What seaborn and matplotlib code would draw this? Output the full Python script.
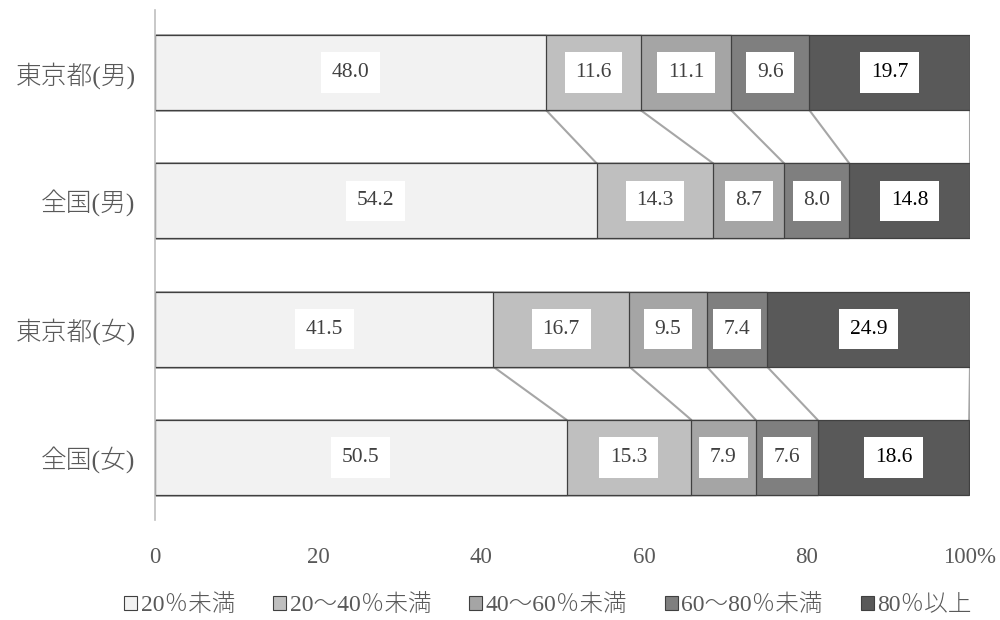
import matplotlib
matplotlib.use("Agg")
import matplotlib.pyplot as plt
from matplotlib.patches import Patch
import seaborn as sns
import numpy as np
import pandas as pd

categories = ["東京都(男)", "全国(男)", "東京都(女)", "全国(女)"]
series_names = ["20％未満", "20～40％未満", "40～60％未満", "60～80％未満", "80％以上"]
seg_lt20 = [48.0, 54.2, 41.5, 50.5]
seg_20_40 = [11.6, 14.3, 16.7, 15.3]
seg_40_60 = [11.1, 8.7, 9.5, 7.9]
seg_60_80 = [9.6, 8.0, 7.4, 7.6]
seg_ge80 = [19.7, 14.8, 24.9, 18.6]
xticks = [0, 20, 40, 60, 80, 100]
xtick_labels = ["0", "20", "40", "60", "80", "100%"]
colors = ["#f2f2f2", "#bfbfbf", "#a5a5a5", "#7f7f7f", "#595959"]
pairs = [(0, 1), (2, 3)]

sns.set_theme(style="white")
FONT = ["Liberation Serif", "Noto Sans CJK JP", "DejaVu Sans"]
plt.rcParams["font.family"] = FONT

series = [seg_lt20, seg_20_40, seg_40_60, seg_60_80, seg_ge80]
vals = np.array(series)  # shape (5, 4)
cum = np.cumsum(vals, axis=0)
starts = cum - vals

fig = plt.figure(figsize=(10, 6.2), dpi=100)
ax = fig.add_axes([0.155, 0.161, 0.815, 0.823])

bar_h = 0.585
for k in range(len(series) - 1, -1, -1):
    df = pd.DataFrame({"cat": categories, "end": cum[k]})
    sns.barplot(data=df, x="end", y="cat", orient="h", color=colors[k],
                saturation=1, width=bar_h, edgecolor="#404040", linewidth=0.9,
                ax=ax, zorder=2)

# connector (series) lines
for (a, b) in pairs:
    for k in range(len(series)):
        ax.plot([cum[k][a], cum[k][b]], [a + bar_h / 2, b - bar_h / 2],
                color="#a6a6a6", lw=1.5, zorder=1)

# data labels
for k in range(len(series)):
    for i in range(len(categories)):
        xc = starts[k][i] + vals[k][i] / 2
        ax.text(xc, i, f"{vals[k][i]:.1f}", ha="center", va="center",
                fontsize=15.5, color="#000000" if k == 4 else "#404040",
                family=FONT, zorder=5,
                bbox=dict(boxstyle="square,pad=0.5", fc="white", ec="none"))

ax.set_xlim(0, 100)
ax.set_ylim(3.49, -0.49)
ax.set_xticks(xticks)
ax.set_xticklabels(xtick_labels, fontsize=16.5, color="#595959")
ax.set_yticks(range(len(categories)))
ax.set_yticklabels(categories, fontsize=18.5, color="#595959", fontweight="light")
ax.tick_params(axis="x", length=0, pad=19)
ax.tick_params(axis="y", length=0, pad=14)
ax.set_xlabel("")
ax.set_ylabel("")
for s in ["top", "right", "bottom"]:
    ax.spines[s].set_visible(False)
ax.spines["left"].set_color("#bfbfbf")
ax.spines["left"].set_linewidth(1.2)
ax.grid(False)

handles = [Patch(facecolor=colors[k], edgecolor="#404040", linewidth=0.8,
                 label=series_names[k]) for k in range(len(series))]
leg = fig.legend(handles=handles, loc="center", bbox_to_anchor=(0.548, 0.024),
                 ncol=5, frameon=False, fontsize=17, handlelength=0.55,
                 handleheight=0.55, handletextpad=0.15, columnspacing=1.6)
for t in leg.get_texts():
    t.set_color("#595959")
    t.set_fontweight("light")

fig.savefig("out.png", dpi=100, facecolor="white")
